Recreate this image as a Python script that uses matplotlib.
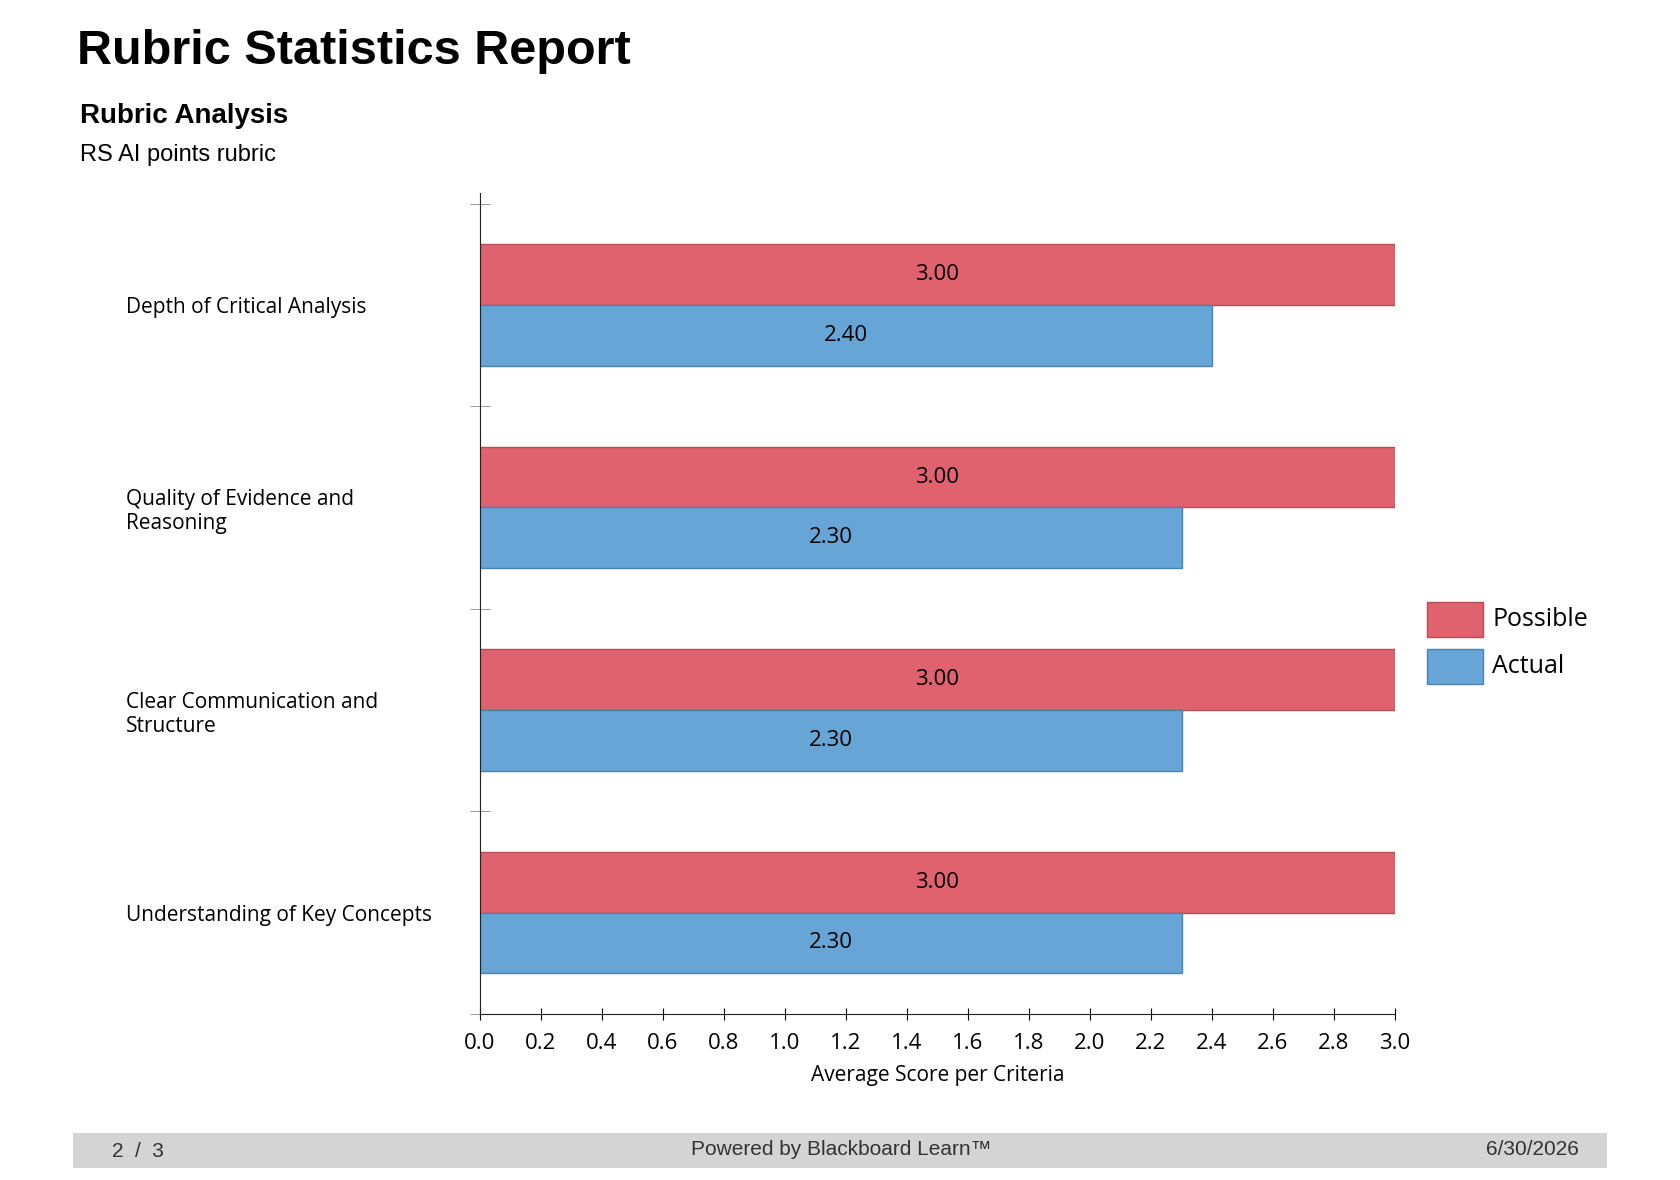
import matplotlib
matplotlib.use("Agg")
import matplotlib.pyplot as plt
from matplotlib.patches import Rectangle
import numpy as np

criteria = ["Depth of Critical Analysis", "Quality of Evidence and\nReasoning",
            "Clear Communication and\nStructure", "Understanding of Key Concepts"]
possible = [3.00, 3.00, 3.00, 3.00]
actual = [2.40, 2.30, 2.30, 2.30]
x_ticks = np.arange(0, 3.01, 0.2)

RED = "#e0626e"
BLUE = "#66a5d6"
W, H = 1568.0, 1101.0  # reference layout units

fig = plt.figure(figsize=(16.8, 11.8), dpi=100)

# header text
fig.text(72 / W, 1 - 48 / H, "Rubric Statistics Report", fontsize=35, fontweight="bold",
         family="Liberation Sans", va="center", ha="left")
fig.text(75 / W, 1 - 108 / H, "Rubric Analysis", fontsize=20, fontweight="bold",
         family="Liberation Sans", va="center", ha="left")
fig.text(75 / W, 1 - 145 / H, "RS AI points rubric", fontsize=17,
         family="Liberation Sans", va="center", ha="left")

ax = fig.add_axes([448 / W, 1 - 946 / H, (1302 - 448) / W, (946 - 180) / H])
y = np.arange(len(criteria))
h = 0.3
ax.barh(y - h / 2, possible, height=h, color=RED, edgecolor="#b84a55", linewidth=1, label="Possible")
ax.barh(y + h / 2, actual, height=h, color=BLUE, edgecolor="#4a82ad", linewidth=1, label="Actual")
for yi, p, a in zip(y, possible, actual):
    ax.text(p / 2, yi - h / 2, f"{p:.2f}", ha="center", va="center", fontsize=16, family="Open Sans")
    ax.text(a / 2, yi + h / 2, f"{a:.2f}", ha="center", va="center", fontsize=16, family="Open Sans")

ax.set_xlim(0, 3.0)
ax.set_ylim(len(criteria) - 0.5, -0.553)
ax.set_yticks(y)
ax.set_yticklabels(criteria, fontsize=15, family="Open Sans", ha="left")
ax.tick_params(axis="y", length=0, pad=255)
ax.set_yticks(np.arange(-0.5, len(criteria)), minor=True)
ax.tick_params(axis="y", which="minor", length=14, direction="inout", color="#888888")
ax.set_xticks(x_ticks)
ax.set_xticklabels([f"{v:.1f}" for v in x_ticks], fontsize=16, family="Open Sans")
ax.tick_params(axis="x", length=8, direction="inout", pad=10)
ax.set_xlabel("Average Score per Criteria", fontsize=15, family="Open Sans", labelpad=8)
for s in ["top", "right"]:
    ax.spines[s].set_visible(False)
ax.spines["left"].set_color("#222222")
ax.spines["bottom"].set_color("#222222")

# legend
for i, (lab, col, ec) in enumerate([("Possible", RED, "#b84a55"), ("Actual", BLUE, "#4a82ad")]):
    yc = 578 + i * 44
    fig.patches.append(Rectangle((1332 / W, 1 - (yc + 16) / H), 52 / W, 32 / H,
                                 transform=fig.transFigure, facecolor=col, edgecolor=ec, linewidth=1))
    fig.text(1393 / W, 1 - yc / H, lab, fontsize=18, family="Open Sans", va="center", ha="left")

# footer
fig.patches.append(Rectangle((68 / W, 1 - 1090 / H), (1500 - 68) / W, 33 / H,
                             transform=fig.transFigure, facecolor="#d4d4d4", edgecolor="none"))
fig.text(105 / W, 1 - 1074 / H, "2  /  3", fontsize=15, family="Liberation Sans", va="center", color="#333333")
fig.text(785 / W, 1 - 1073 / H, "Powered by Blackboard Learn™", fontsize=15, family="Liberation Sans",
         va="center", ha="center", color="#333333")
fig.text(1474 / W, 1 - 1073 / H, "6/30/2026", fontsize=15, family="Liberation Sans",
         va="center", ha="right", color="#333333")

fig.savefig("out.png", dpi=100)
